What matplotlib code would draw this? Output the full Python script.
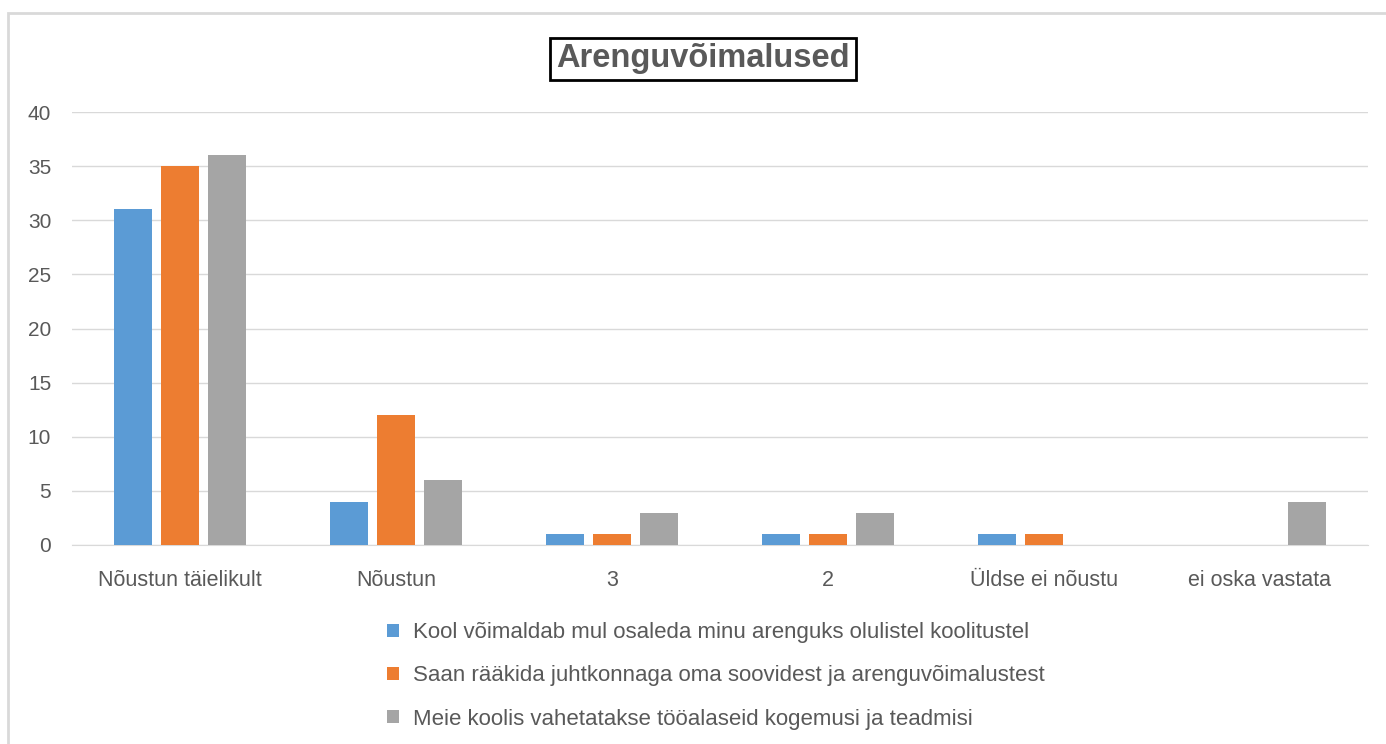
import numpy as np
import matplotlib.pyplot as plt
from matplotlib.patches import Rectangle, Patch

categories = ["Nõustun täielikult", "Nõustun", "3", "2", "Üldse ei nõustu", "ei oska vastata"]
series_names = [
    "Kool võimaldab mul osaleda minu arenguks olulistel koolitustel",
    "Saan rääkida juhtkonnaga oma soovidest ja arenguvõimalustest",
    "Meie koolis vahetatakse tööalaseid kogemusi ja teadmisi",
]
koolitused = [31, 4, 1, 1, 1, 0]
juhtkond = [35, 12, 1, 1, 1, 0]
kogemused = [36, 6, 3, 3, 0, 4]
colors = ["#5b9bd5", "#ed7d31", "#a5a5a5"]

plt.rcParams['font.family'] = ['Liberation Sans', 'DejaVu Sans']
text_col = "#595959"
grid_col = "#d9d9d9"

fig = plt.figure(figsize=(13.86, 7.44), dpi=100)
ax = fig.add_axes([72 / 1386, 1 - 545 / 744, 1296 / 1386, 433 / 744])

x = np.arange(len(categories))
width = 0.176
step = 0.218
for i, vals in enumerate([koolitused, juhtkond, kogemused]):
    ax.bar(x + (i - 1) * step, vals, width, color=colors[i], zorder=3)

ax.set_xlim(-0.5, len(categories) - 0.5)
ax.set_ylim(0, 40)
ax.set_yticks(range(0, 41, 5))
ax.set_xticks(x)
ax.set_xticklabels(categories)
ax.tick_params(axis='both', length=0, labelsize=15, colors=text_col)
ax.tick_params(axis='x', labelsize=15.5, pad=18)
ax.tick_params(axis='y', pad=15)
ax.grid(axis='y', color=grid_col, linewidth=1, zorder=0)
for s in ["top", "right", "left"]:
    ax.spines[s].set_visible(False)
ax.spines["bottom"].set_color(grid_col)

# chart title in a boxed frame
fig.text(703 / 1386, 1 - 59 / 744, "Arenguvõimalused", ha='center', va='center',
         fontsize=23.5, fontweight='bold', color=text_col,
         bbox=dict(boxstyle='square,pad=0.18', facecolor='white', edgecolor='black', linewidth=2))

handles = [Patch(facecolor=c) for c in colors]
fig.legend(handles, series_names, loc='upper left', bbox_to_anchor=(376 / 1386, 1 - 611 / 744),
           frameon=False, fontsize=16, labelcolor=text_col, handlelength=0.55, handleheight=0.55,
           handletextpad=0.6, labelspacing=1.0, borderpad=0)

# outer chart border
fig.patches.append(Rectangle((8 / 1386, -0.05), 1.1, 1 - 13 / 744 + 0.05, transform=fig.transFigure,
                             fill=False, edgecolor=grid_col, linewidth=2))

fig.savefig("out.png", dpi=100)
